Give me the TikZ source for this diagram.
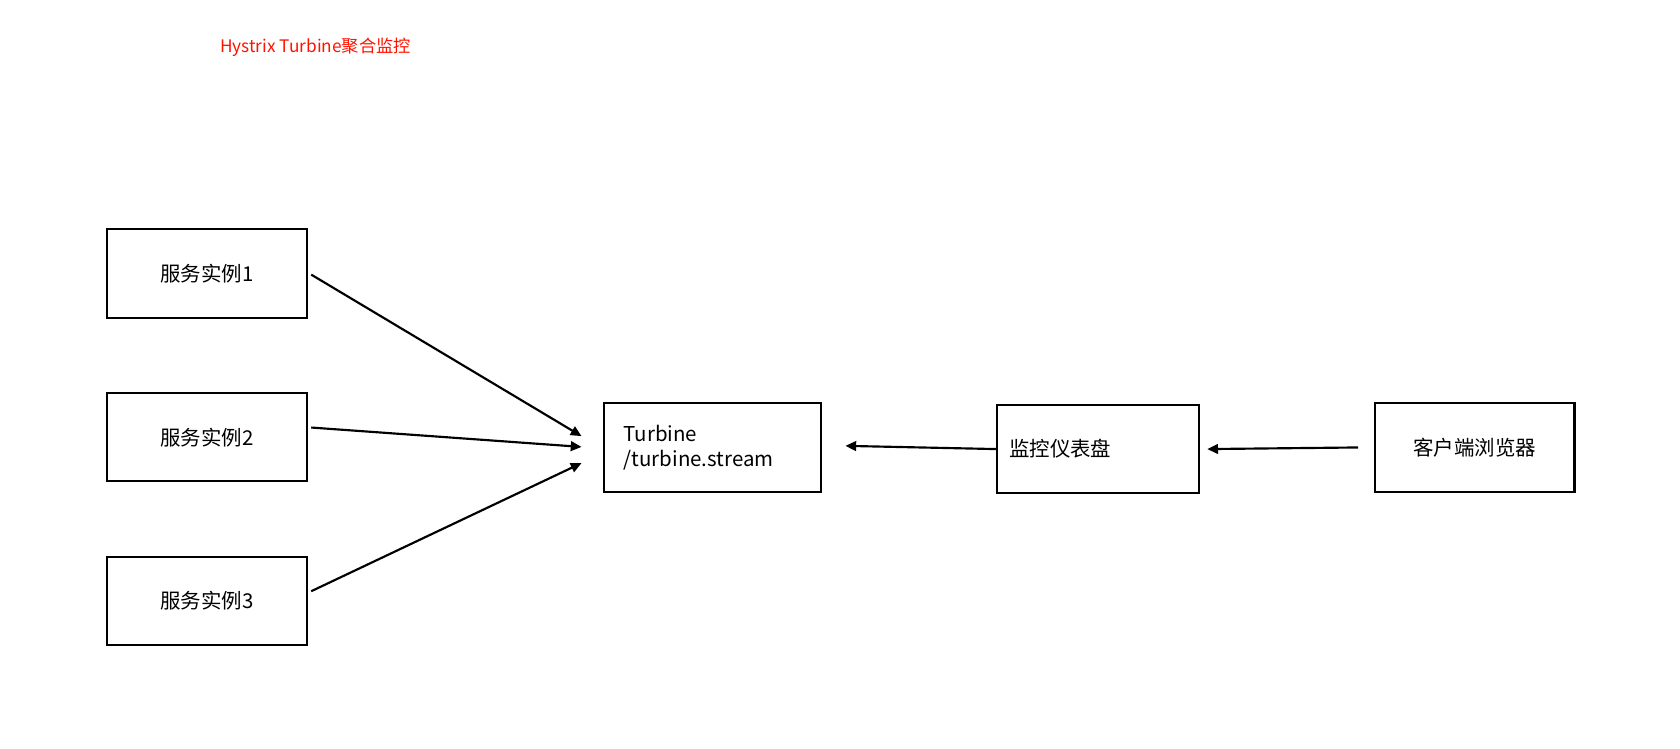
\documentclass[tikz,border=0pt]{standalone}
\usepackage{fontspec}
\setmainfont{Liberation Sans}
\newfontfamily\cjk{Noto Sans CJK SC}
\usetikzlibrary{arrows.meta}
\begin{document}
\begin{tikzpicture}[x=1pt,y=-1pt,
  box/.style={draw,line width=2pt,font=\cjk\fontsize{19}{23}\selectfont,inner sep=0pt},
  arr/.style={line width=2pt,-{Triangle[length=10pt,width=9pt]}}]
\useasboundingbox (0,0) rectangle (1560,694.6);
\node[font=\cjk\fontsize{16}{19}\selectfont,text=red!85!orange,anchor=west] (title) at (201,44) {Hystrix Turbine聚合监控};
\node[box,minimum width=186pt,minimum height=82pt] (s1) at (192,254) {服务实例1};
\node[box,minimum width=186pt,minimum height=82pt] (s2) at (192,406) {服务实例2};
\node[box,minimum width=186pt,minimum height=82pt] (s3) at (192,558) {服务实例3};
\node[box,minimum width=201pt,minimum height=83pt,align=left,text width=165pt] (t) at (661.5,415.5) {Turbine\\/turbine.stream};
\node[box,minimum width=187pt,minimum height=82pt,align=left,text width=165pt] (d) at (1019.5,417) {监控仪表盘};
\node[box,minimum width=185pt,minimum height=83pt] (c) at (1369.5,415.5) {客户端浏览器};
\coordinate (a1) at (540,405);
\coordinate (a2) at (540,415);
\coordinate (a3) at (540,430);
\draw[arr] ([xshift=3pt,yshift=-1pt]s1.east) -- (a1);
\draw[arr] ([xshift=3pt,yshift=9pt]s2.east) -- (a2);
\draw[arr] ([xshift=3pt,yshift=9pt]s3.east) -- (a3);
\draw[arr] (d.west) -- ([xshift=22pt,yshift=1.5pt]t.east);
\draw[arr] ([xshift=-15pt]c.west) -- ([xshift=7pt]d.east);
\end{tikzpicture}
\end{document}
